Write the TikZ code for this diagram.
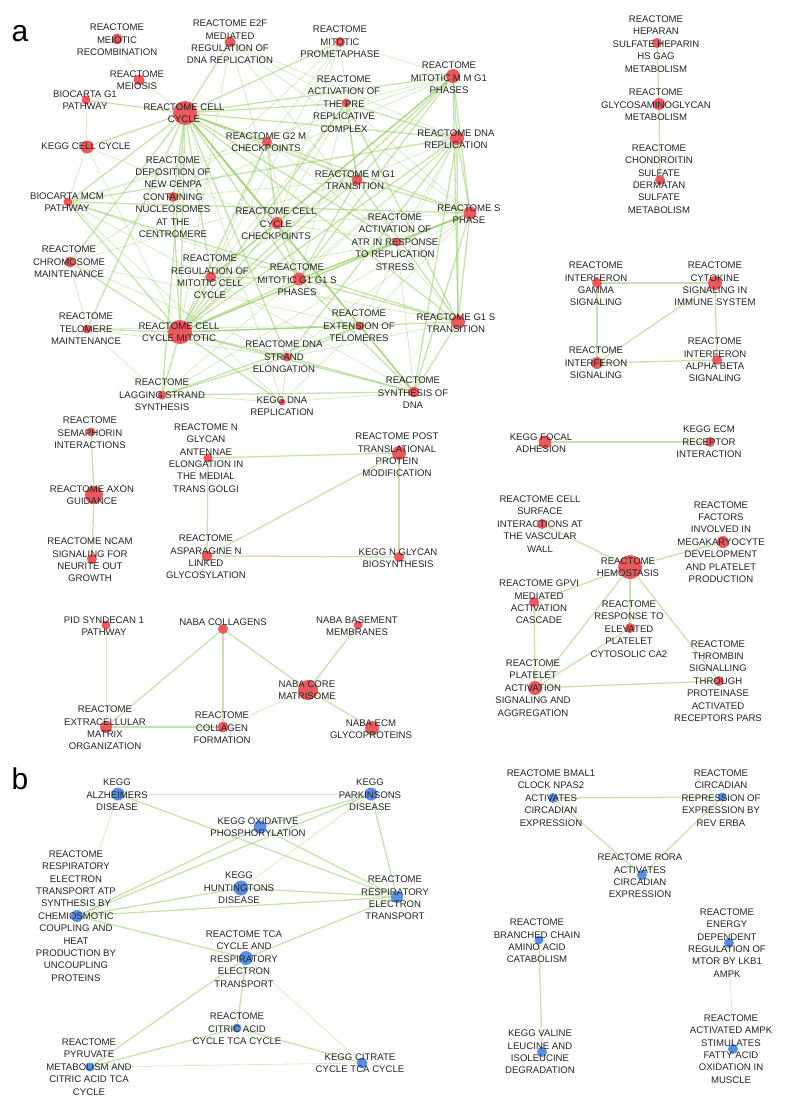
\documentclass[tikz,border=0pt]{standalone}
\usepackage{fontspec}
\setmainfont{Liberation Sans}
\usepackage{tikz}
\usetikzlibrary{backgrounds}
\definecolor{dotRed}{RGB}{236,88,92}
\definecolor{dotBlue}{RGB}{88,142,232}
\definecolor{edgeGreen}{RGB}{140,200,90}
\definecolor{textGray}{RGB}{35,35,35}

\begin{document}
\begin{tikzpicture}[x=1pt, y=-1pt,
    rdot/.style={circle, fill=dotRed, inner sep=0, minimum size=#1},
    bdot/.style={circle, fill=dotBlue, inner sep=0, minimum size=#1},
    lbl/.style={font=\fontsize{9.6}{12.4}\selectfont, align=center, text=textGray, inner sep=0},
    edge/.style={draw=edgeGreen, line width=1.3pt, opacity=0.5},
    faintedge/.style={draw=edgeGreen, line width=0.8pt, opacity=0.35}]
    \useasboundingbox (0,0) rectangle (788,1106);

    \node[font=\fontsize{30}{30}\selectfont, text=black] (panelA) at (20,34) {a};
    \node[font=\fontsize{30}{30}\selectfont, text=black] (panelB) at (20,779) {b};

    % cell cycle cluster
    \node[rdot=11pt] (meiotic) at (117,39) {};
    \node[rdot=11pt] (e2f) at (230,42) {};
    \node[rdot=10pt] (prometa) at (340,42) {};
    \node[rdot=14pt] (mmg1) at (453,76) {};
    \node[rdot=11pt] (meiosis) at (139,80) {};
    \node[rdot=9pt] (prerep) at (346,103) {};
    \node[rdot=9pt] (biog1) at (86,100) {};
    \node[rdot=24pt] (cc) at (185,113) {};
    \node[rdot=14pt] (dnarep) at (457,138) {};
    \node[rdot=10pt] (g2m) at (267,142) {};
    \node[rdot=13pt] (keggcc) at (87,147) {};
    \node[rdot=10pt] (cenpa) at (173,197) {};
    \node[rdot=11pt] (mg1) at (357,180) {};
    \node[rdot=9pt] (mcm) at (68,202) {};
    \node[rdot=12pt] (checkpts) at (277,223) {};
    \node[rdot=13pt] (sphase) at (470,213) {};
    \node[rdot=9pt] (atr) at (397,242) {};
    \node[rdot=11pt] (chromo) at (70,262) {};
    \node[rdot=11pt] (regmit) at (211,277) {};
    \node[rdot=13pt] (g1sph) at (299,279) {};
    \node[rdot=9pt] (telm) at (87,329) {};
    \node[rdot=24pt] (ccm) at (180,332) {};
    \node[rdot=9pt] (exttel) at (360,326) {};
    \node[rdot=14pt] (g1s) at (458,322) {};
    \node[rdot=9pt] (strand) at (287,357) {};
    \node[rdot=9pt] (lagging) at (162,395) {};
    \node[rdot=7pt] (keggdna) at (282,402) {};
    \node[rdot=11pt] (synth) at (414,392) {};

    % glycosaminoglycan chain
    \node[rdot=10pt] (heparan) at (657,43) {};
    \node[rdot=12pt] (glycos) at (659,104) {};
    \node[rdot=10pt] (chondro) at (660,180) {};

    % interferon cluster
    \node[rdot=10pt] (ifng) at (597,283) {};
    \node[rdot=14pt] (cytokine) at (715,283) {};
    \node[rdot=12pt] (ifns) at (597,363) {};
    \node[rdot=10pt] (ifnab) at (717,360) {};

    \node[rdot=13pt] (focal) at (545,442) {};
    \node[rdot=10pt] (ecmrec) at (710,442) {};

    % hemostasis cluster
    \node[rdot=10pt] (cellsurf) at (542,524) {};
    \node[rdot=24pt] (hemo) at (630,567) {};
    \node[rdot=12pt] (megak) at (723,542) {};
    \node[rdot=10pt] (gpvi) at (534,602) {};
    \node[rdot=10pt] (response) at (630,628) {};
    \node[rdot=14pt] (platelet) at (535,688) {};
    \node[rdot=10pt] (thrombin) at (719,681) {};

    % axon guidance chain
    \node[rdot=9pt] (sema) at (91,432) {};
    \node[rdot=18pt] (axon) at (94,495) {};
    \node[rdot=10pt] (ncam) at (92,559) {};

    % glycosylation cluster
    \node[rdot=9pt] (antennae) at (208,458) {};
    \node[rdot=14pt] (posttr) at (399,453) {};
    \node[rdot=11pt] (asparag) at (207,556) {};
    \node[rdot=10pt] (keggng) at (399,557) {};

    % matrisome cluster
    \node[rdot=9pt] (syndecan) at (106,625) {};
    \node[rdot=10pt] (collagens) at (223,629) {};
    \node[rdot=9pt] (basement) at (358,625) {};
    \node[rdot=20pt] (core) at (308,690) {};
    \node[rdot=12pt] (ecmorg) at (106,727) {};
    \node[rdot=11pt] (colform) at (223,727) {};
    \node[rdot=14pt] (nabaecm) at (372,728) {};

    % panel b
    \node[bdot=13pt] (alz) at (118,794) {};
    \node[bdot=13pt] (park) at (371,794) {};
    \node[bdot=13pt] (oxphos) at (260,827) {};
    \node[bdot=12pt] (respatp) at (77,916) {};
    \node[bdot=15pt] (hunt) at (241,888) {};
    \node[bdot=12pt] (respet) at (397,897) {};
    \node[bdot=14pt] (tca) at (246,958) {};
    \node[bdot=9pt] (citric) at (237,1028) {};
    \node[bdot=9pt] (pyruvate) at (90,1067) {};
    \node[bdot=11pt] (kcitrate) at (362,1063) {};
    \node[bdot=10pt] (bmal) at (553,798) {};
    \node[bdot=9pt] (circrep) at (722,797) {};
    \node[bdot=10pt] (rora) at (642,875) {};
    \node[bdot=9pt] (branched) at (539,940) {};
    \node[bdot=10pt] (valine) at (542,1052) {};
    \node[bdot=10pt] (energy) at (729,943) {};
    \node[bdot=10pt] (ampk) at (733,1049) {};

    \begin{scope}[on background layer]
        \foreach \a/\b in {cc/e2f, cc/prometa, cc/mmg1, cc/prerep, cc/dnarep, cc/g2m, cc/cenpa, cc/mg1,
            cc/mcm, cc/checkpts, cc/sphase, cc/atr, cc/chromo, cc/regmit, cc/g1sph, cc/ccm, cc/telm,
            cc/exttel, cc/g1s, cc/strand, cc/lagging, cc/synth, cc/keggcc, cc/biog1,
            ccm/mmg1, ccm/prerep, ccm/dnarep, ccm/g2m, ccm/cenpa, ccm/mg1, ccm/mcm, ccm/checkpts,
            ccm/sphase, ccm/atr, ccm/chromo, ccm/regmit, ccm/g1sph, ccm/telm, ccm/exttel, ccm/g1s,
            ccm/strand, ccm/lagging, ccm/synth, ccm/keggdna,
            mmg1/dnarep, mmg1/sphase, mmg1/g1s, mmg1/mg1, mmg1/g1sph, mmg1/checkpts, mmg1/regmit,
            dnarep/sphase, dnarep/g1s, dnarep/synth, dnarep/strand, dnarep/prerep, dnarep/mcm,
            sphase/g1s, sphase/synth, sphase/atr, sphase/mg1, sphase/g1sph, sphase/mcm,
            g1s/synth, g1s/g1sph, g1s/mg1, g1s/prerep, g1s/mcm,
            synth/strand, synth/lagging, synth/exttel, synth/g1sph,
            strand/lagging, strand/exttel, lagging/exttel, g2m/checkpts, checkpts/g1sph,
            checkpts/regmit, mg1/g1sph, regmit/g1sph, g1sph/atr, mg1/prerep}
            \draw[edge] (\a) -- (\b);
        \foreach \a/\b in {meiotic/meiosis, meiosis/cc, biog1/keggcc, keggcc/mcm, cc/keggdna,
            ccm/e2f, ccm/prometa, ccm/keggcc, mmg1/prometa, mmg1/prerep, mmg1/cenpa, mmg1/mcm,
            dnarep/atr, dnarep/mg1, dnarep/g1sph, dnarep/exttel, dnarep/lagging, dnarep/e2f,
            sphase/strand, sphase/lagging, sphase/prerep, sphase/checkpts, sphase/exttel, sphase/e2f,
            g1s/e2f, g1s/regmit, g1s/strand, synth/keggdna, synth/mcm, synth/atr, synth/checkpts,
            strand/keggdna, strand/telm, strand/chromo, lagging/keggdna, lagging/telm, keggdna/mcm,
            keggdna/exttel, exttel/telm, exttel/chromo, exttel/g1sph, telm/chromo, keggcc/checkpts,
            g2m/mg1, g2m/regmit, g2m/g1sph, g2m/atr, g2m/prometa, checkpts/atr, checkpts/mg1,
            checkpts/prometa, checkpts/prerep, mg1/regmit, mg1/prometa, mg1/cenpa, mg1/chromo,
            regmit/atr, regmit/prerep, g1sph/prerep, g1sph/e2f, g1sph/mcm, cenpa/chromo,
            cenpa/prometa, e2f/prerep, mcm/g2m}
            \draw[faintedge] (\a) -- (\b);

        \draw[edge] (heparan) -- (glycos) -- (chondro);
        \foreach \a/\b in {ifng/cytokine, ifng/ifns, cytokine/ifns, cytokine/ifnab, ifns/ifnab,
            focal/ecmrec, hemo/cellsurf, hemo/megak, hemo/gpvi, hemo/response, hemo/platelet,
            hemo/thrombin, gpvi/platelet, response/platelet, platelet/thrombin,
            sema/axon, axon/ncam, antennae/posttr, antennae/asparag, asparag/posttr,
            asparag/keggng, posttr/keggng, collagens/ecmorg, collagens/colform, collagens/core,
            basement/core, core/nabaecm, ecmorg/colform}
            \draw[edge] (\a) -- (\b);
        \draw[faintedge] (syndecan) -- (ecmorg);
        \draw[faintedge] (core) -- (colform);

        \foreach \a/\b in {alz/respet, park/oxphos, park/respatp, park/respet, oxphos/respatp,
            oxphos/respet, hunt/respatp, hunt/respet, respatp/respet, respatp/tca, respet/tca,
            tca/citric, tca/pyruvate, citric/pyruvate, citric/kcitrate,
            bmal/circrep, bmal/rora, circrep/rora, branched/valine}
            \draw[edge] (\a) -- (\b);
        \foreach \a/\b in {alz/park, alz/respatp, park/hunt, tca/kcitrate, pyruvate/kcitrate,
            energy/ampk}
            \draw[faintedge] (\a) -- (\b);
    \end{scope}

    % labels
    \node[lbl] (meioticT) at (117,40) {REACTOME\\MEIOTIC\\RECOMBINATION};
    \node[lbl] (e2fT) at (230,42) {REACTOME E2F\\MEDIATED\\REGULATION OF\\DNA REPLICATION};
    \node[lbl] (prometaT) at (340,42) {REACTOME\\MITOTIC\\PROMETAPHASE};
    \node[lbl] (mmg1T) at (449,78) {REACTOME\\MITOTIC M M G1\\PHASES};
    \node[lbl] (meiosisT) at (137,80) {REACTOME\\MEIOSIS};
    \node[lbl] (prerepT) at (344,104) {REACTOME\\ACTIVATION OF\\THE PRE\\REPLICATIVE\\COMPLEX};
    \node[lbl] (biog1T) at (85,100) {BIOCARTA G1\\PATHWAY};
    \node[lbl] (ccT) at (184,113) {REACTOME CELL\\CYCLE};
    \node[lbl] (dnarepT) at (456,139) {REACTOME DNA\\REPLICATION};
    \node[lbl] (g2mT) at (266,142) {REACTOME G2 M\\CHECKPOINTS};
    \node[lbl] (keggccT) at (86,146) {KEGG CELL CYCLE};
    \node[lbl] (cenpaT) at (173,197) {REACTOME\\DEPOSITION OF\\NEW CENPA\\CONTAINING\\NUCLEOSOMES\\AT THE\\CENTROMERE};
    \node[lbl] (mg1T) at (355,180) {REACTOME M G1\\TRANSITION};
    \node[lbl] (mcmT) at (67,202) {BIOCARTA MCM\\PATHWAY};
    \node[lbl] (checkptsT) at (276,224) {REACTOME CELL\\CYCLE\\CHECKPOINTS};
    \node[lbl] (sphaseT) at (469,214) {REACTOME S\\PHASE};
    \node[lbl] (atrT) at (395,242) {REACTOME\\ACTIVATION OF\\ATR IN RESPONSE\\TO REPLICATION\\STRESS};
    \node[lbl] (chromoT) at (69,262) {REACTOME\\CHROMOSOME\\MAINTENANCE};
    \node[lbl] (regmitT) at (210,277) {REACTOME\\REGULATION OF\\MITOTIC CELL\\CYCLE};
    \node[lbl] (g1sphT) at (297,280) {REACTOME\\MITOTIC G1 G1 S\\PHASES};
    \node[lbl] (telmT) at (86,329) {REACTOME\\TELOMERE\\MAINTENANCE};
    \node[lbl] (ccmT) at (179,332) {REACTOME CELL\\CYCLE MITOTIC};
    \node[lbl] (exttelT) at (359,326) {REACTOME\\EXTENSION OF\\TELOMERES};
    \node[lbl] (g1sT) at (456,323) {REACTOME G1 S\\TRANSITION};
    \node[lbl] (strandT) at (284,357) {REACTOME DNA\\STRAND\\ELONGATION};
    \node[lbl] (laggingT) at (162,395) {REACTOME\\LAGGING STRAND\\SYNTHESIS};
    \node[lbl] (keggdnaT) at (282,406) {KEGG DNA\\REPLICATION};
    \node[lbl] (synthT) at (413,393) {REACTOME\\SYNTHESIS OF\\DNA};

    \node[lbl] (heparanT) at (656,44) {REACTOME\\HEPARAN\\SULFATE HEPARIN\\HS GAG\\METABOLISM};
    \node[lbl] (glycosT) at (656,105) {REACTOME\\GLYCOSAMINOGLYCAN\\METABOLISM};
    \node[lbl] (chondroT) at (659,179) {REACTOME\\CHONDROITIN\\SULFATE\\DERMATAN\\SULFATE\\METABOLISM};
    \node[lbl] (ifngT) at (596,284) {REACTOME\\INTERFERON\\GAMMA\\SIGNALING};
    \node[lbl] (cytokineT) at (715,284) {REACTOME\\CYTOKINE\\SIGNALING IN\\IMMUNE SYSTEM};
    \node[lbl] (ifnsT) at (596,363) {REACTOME\\INTERFERON\\SIGNALING};
    \node[lbl] (ifnabT) at (715,360) {REACTOME\\INTERFERON\\ALPHA BETA\\SIGNALING};
    \node[lbl] (focalT) at (541,443) {KEGG FOCAL\\ADHESION};
    \node[lbl] (ecmrecT) at (709,442) {KEGG ECM\\RECEPTOR\\INTERACTION};
    \node[lbl] (cellsurfT) at (540,524) {REACTOME CELL\\SURFACE\\INTERACTIONS AT\\THE VASCULAR\\WALL};
    \node[lbl] (hemoT) at (628,567) {REACTOME\\HEMOSTASIS};
    \node[lbl] (megakT) at (721,542) {REACTOME\\FACTORS\\INVOLVED IN\\MEGAKARYOCYTE\\DEVELOPMENT\\AND PLATELET\\PRODUCTION};
    \node[lbl] (gpviT) at (539,602) {REACTOME GPVI\\MEDIATED\\ACTIVATION\\CASCADE};
    \node[lbl] (responseT) at (629,629) {REACTOME\\RESPONSE TO\\ELEVATED\\PLATELET\\CYTOSOLIC CA2};
    \node[lbl] (plateletT) at (533,688) {REACTOME\\PLATELET\\ACTIVATION\\SIGNALING AND\\AGGREGATION};
    \node[lbl] (thrombinT) at (718,681) {REACTOME\\THROMBIN\\SIGNALLING\\THROUGH\\PROTEINASE\\ACTIVATED\\RECEPTORS PARS};

    \node[lbl] (semaT) at (90,433) {REACTOME\\SEMAPHORIN\\INTERACTIONS};
    \node[lbl] (axonT) at (92,495) {REACTOME AXON\\GUIDANCE};
    \node[lbl] (ncamT) at (90,560) {REACTOME NCAM\\SIGNALING FOR\\NEURITE OUT\\GROWTH};
    \node[lbl] (antennaeT) at (206,458) {REACTOME N\\GLYCAN\\ANTENNAE\\ELONGATION IN\\THE MEDIAL\\TRANS GOLGI};
    \node[lbl] (posttrT) at (397,455) {REACTOME POST\\TRANSLATIONAL\\PROTEIN\\MODIFICATION};
    \node[lbl] (asparagT) at (206,557) {REACTOME\\ASPARAGINE N\\LINKED\\GLYCOSYLATION};
    \node[lbl] (keggngT) at (398,558) {KEGG N GLYCAN\\BIOSYNTHESIS};
    \node[lbl] (syndecanT) at (104,626) {PID SYNDECAN 1\\PATHWAY};
    \node[lbl] (collagensT) at (223,622) {NABA COLLAGENS};
    \node[lbl] (basementT) at (357,626) {NABA BASEMENT\\MEMBRANES};
    \node[lbl] (coreT) at (307,690) {NABA CORE\\MATRISOME};
    \node[lbl] (ecmorgT) at (105,728) {REACTOME\\EXTRACELLULAR\\MATRIX\\ORGANIZATION};
    \node[lbl] (colformT) at (222,728) {REACTOME\\COLLAGEN\\FORMATION};
    \node[lbl] (nabaecmT) at (371,729) {NABA ECM\\GLYCOPROTEINS};

    \node[lbl] (alzT) at (117,795) {KEGG\\ALZHEIMERS\\DISEASE};
    \node[lbl] (parkT) at (370,795) {KEGG\\PARKINSONS\\DISEASE};
    \node[lbl] (oxphosT) at (258,827) {KEGG OXIDATIVE\\PHOSPHORYLATION};
    \node[lbl] (respatpT) at (76,916) {REACTOME\\RESPIRATORY\\ELECTRON\\TRANSPORT ATP\\SYNTHESIS BY\\CHEMIOSMOTIC\\COUPLING AND\\HEAT\\PRODUCTION BY\\UNCOUPLING\\PROTEINS};
    \node[lbl] (huntT) at (239,888) {KEGG\\HUNTINGTONS\\DISEASE};
    \node[lbl] (respetT) at (395,898) {REACTOME\\RESPIRATORY\\ELECTRON\\TRANSPORT};
    \node[lbl] (tcaT) at (244,959) {REACTOME TCA\\CYCLE AND\\RESPIRATORY\\ELECTRON\\TRANSPORT};
    \node[lbl] (citricT) at (237,1029) {REACTOME\\CITRIC ACID\\CYCLE TCA CYCLE};
    \node[lbl] (pyruvateT) at (89,1067) {REACTOME\\PYRUVATE\\METABOLISM AND\\CITRIC ACID TCA\\CYCLE};
    \node[lbl] (kcitrateT) at (360,1063) {KEGG CITRATE\\CYCLE TCA CYCLE};
    \node[lbl] (bmalT) at (551,798) {REACTOME BMAL1\\CLOCK NPAS2\\ACTIVATES\\CIRCADIAN\\EXPRESSION};
    \node[lbl] (circrepT) at (721,798) {REACTOME\\CIRCADIAN\\REPRESSION OF\\EXPRESSION BY\\REV ERBA};
    \node[lbl] (roraT) at (640,876) {REACTOME RORA\\ACTIVATES\\CIRCADIAN\\EXPRESSION};
    \node[lbl] (branchedT) at (537,941) {REACTOME\\BRANCHED CHAIN\\AMINO ACID\\CATABOLISM};
    \node[lbl] (valineT) at (540,1052) {KEGG VALINE\\LEUCINE AND\\ISOLEUCINE\\DEGRADATION};
    \node[lbl] (energyT) at (727,943) {REACTOME\\ENERGY\\DEPENDENT\\REGULATION OF\\MTOR BY LKB1\\AMPK};
    \node[lbl] (ampkT) at (731,1049) {REACTOME\\ACTIVATED AMPK\\STIMULATES\\FATTY ACID\\OXIDATION IN\\MUSCLE};
\end{tikzpicture}
\end{document}
